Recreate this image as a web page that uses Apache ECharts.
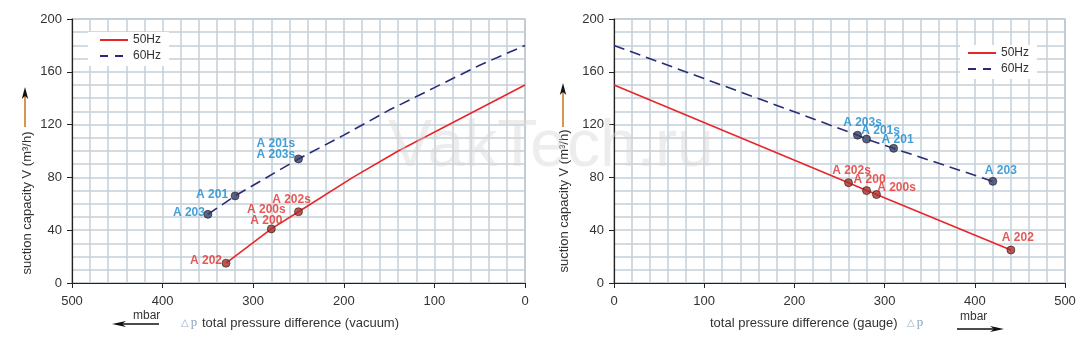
<!DOCTYPE html>
<html>
<head>
<meta charset="utf-8">
<script src="https://cdn.jsdelivr.net/npm/echarts@6/dist/echarts.min.js"></script>
<style>
html,body{margin:0;padding:0;background:#fff;}
#main{width:1082px;height:342px;}
</style>
</head>
<body>
<div id="main"></div>
<script>
// ---------- DATA ----------
const yTicks = [0, 40, 80, 120, 160, 200];
const xTicks = [0, 100, 200, 300, 400, 500];
const seriesNames = ['50Hz', '60Hz'];

// Left chart (vacuum): [pressure difference mbar, suction capacity m3/h]
const vac50Line = [[330, 15], [280, 41], [250, 54], [190, 80], [140, 100], [0, 150]];
const vac60Line = [[350, 52], [320, 66], [250, 94], [200, 112], [150, 131], [100, 148], [50, 165], [0, 180]];
const vac50Marks = [[330, 15, 'A 202'], [280, 41, 'A 200s\nA 200'], [250, 54, 'A 202s']];
const vac60Marks = [[350, 52, 'A 203'], [320, 66, 'A 201'], [250, 94, 'A 201s\nA 203s']];

// Right chart (gauge)
const gau50Line = [[0, 150], [260, 76], [280, 70], [291, 67], [440, 25]];
const gau60Line = [[0, 180], [270, 112], [280, 109], [310, 102], [420, 77]];
const gau50Marks = [[260, 76, 'A 202s'], [280, 70, 'A 200'], [291, 67, 'A 200s'], [440, 25, 'A 202']];
const gau60Marks = [[270, 112, 'A 203s'], [280, 109, 'A 201s'], [310, 102, 'A 201'], [420, 77, 'A 203']];

// ---------- STYLE ----------
const FONT = 'Liberation Sans, Arial, sans-serif';
const RED = '#e8262a';
const NAVY = '#2b2a78';
const LBL_RED = '#e2302a';
const LBL_BLUE = '#1588cc';
const GRIDC = '#c4cfd9';
const DASH = [11, 6];

// label offsets (label center relative to point), style only
const labelStyle = {
  vac: {
    'A 202': {offset: [-20, -3]},
    'A 200s\nA 200': {offset: [-5, -13.5]},
    'A 202s': {offset: [-7, -12]},
    'A 203': {offset: [-19, -1.5]},
    'A 201': {offset: [-23, -1]},
    'A 201s\nA 203s': {offset: [-42, -9.5], align: 'left'}
  },
  gau: {
    'A 203s': {offset: [5, -12]},
    'A 201s': {offset: [14, -8]},
    'A 201': {offset: [4, -9]},
    'A 203': {offset: [8, -10.5]},
    'A 202s': {offset: [3, -12]},
    'A 200': {offset: [3, -11]},
    'A 200s': {offset: [20, -6.5]},
    'A 202': {offset: [7, -12.5]}
  }
};

function markData(marks, key, color) {
  return marks.map(m => {
    const s = labelStyle[key][m[2]];
    return {
      value: [m[0], m[1]],
      label: {
        show: true,
        position: 'inside',
        formatter: m[2],
        offset: s.offset,
        align: s.align || 'center',
        verticalAlign: 'middle',
        color: color,
        fontWeight: 'bold',
        fontSize: 12,
        lineHeight: 11,
        fontFamily: FONT
      }
    };
  });
}

function yAxisCfg(gi) {
  return {
    type: 'value', gridIndex: gi, min: yTicks[0], max: yTicks[yTicks.length - 1], interval: 40,
    axisLine: {show: true, onZero: false, lineStyle: {color: '#222', width: 1.2}},
    axisTick: {show: true, length: 5, lineStyle: {color: '#222', width: 1}},
    axisLabel: {color: '#333', fontSize: 13, margin: 10, fontFamily: FONT},
    splitLine: {show: true, lineStyle: {color: GRIDC, width: 1.5}},
    minorTick: {show: false, splitNumber: 4},
    minorSplitLine: {show: true, lineStyle: {color: GRIDC, width: 1.5}}
  };
}
function xAxisCfg(gi, inverse) {
  return {
    type: 'value', gridIndex: gi, min: xTicks[0], max: xTicks[xTicks.length - 1], interval: 100, inverse: inverse,
    axisLine: {show: true, onZero: false, lineStyle: {color: '#222', width: 1.2}},
    axisTick: {show: true, length: 5, lineStyle: {color: '#222', width: 1}},
    axisLabel: {color: '#333', fontSize: 13, margin: 12, fontFamily: FONT},
    splitLine: {show: true, lineStyle: {color: GRIDC, width: 1.5}},
    minorTick: {show: false, splitNumber: 5},
    minorSplitLine: {show: true, lineStyle: {color: GRIDC, width: 1.5}}
  };
}

function lineSeries(name, data, gi, color, dashed) {
  return {
    name: name, type: 'line', xAxisIndex: gi, yAxisIndex: gi, data: data,
    symbol: 'none', showSymbol: false, silent: true, z: 3,
    lineStyle: {color: color, width: 1.6, type: dashed ? DASH : 'solid'},
    itemStyle: {color: color}
  };
}
function markSeries(id, marks, key, gi, fill, lblColor) {
  return {
    name: id, type: 'scatter', xAxisIndex: gi, yAxisIndex: gi,
    symbol: 'circle', symbolSize: 8, z: 4, silent: true,
    itemStyle: {color: fill, borderColor: '#2a1e1e', borderWidth: 0.8},
    data: markData(marks, key, lblColor)
  };
}

function legendCfg(left, top, padLeft) {
  return {
    data: [
      {name: seriesNames[0], itemStyle: {opacity: 0}, lineStyle: {color: RED, width: 2, type: 'solid'}},
      {name: seriesNames[1], itemStyle: {opacity: 0}, lineStyle: {color: NAVY, width: 2, type: [8, 7]}}
    ],
    orient: 'vertical', left: left, top: top,
    backgroundColor: '#fff', padding: [2, 8, 4, padLeft],
    itemWidth: 28, itemHeight: 14, itemGap: 4, selectedMode: false,
    textStyle: {color: '#333', fontSize: 12, fontFamily: FONT}
  };
}

function arrowV(x, tipY, bottomY) {
  return [
    {type: 'line', shape: {x1: x, y1: tipY + 8, x2: x, y2: bottomY}, style: {stroke: '#cf7a26', lineWidth: 1.6}, z: 10},
    {type: 'polygon', shape: {points: [[x, tipY], [x - 3.2, tipY + 12], [x, tipY + 9], [x + 3.2, tipY + 12]]}, style: {fill: '#111'}, z: 11}
  ];
}
function arrowH(xTail, xTip, y) {
  const d = xTip > xTail ? 1 : -1;
  return [
    {type: 'line', shape: {x1: xTail, y1: y, x2: xTip - d * 8, y2: y}, style: {stroke: '#111', lineWidth: 1.3}, z: 10},
    {type: 'polygon', shape: {points: [[xTip, y], [xTip - d * 14, y - 3], [xTip - d * 10, y], [xTip - d * 14, y + 3]]}, style: {fill: '#111'}, z: 11}
  ];
}
function txt(x, y, text, opts) {
  return {type: 'text', x: x, y: y, z: 12, silent: true,
    style: Object.assign({text: text, fill: '#333', fontSize: 13, fontFamily: FONT, textAlign: 'left', textVerticalAlign: 'middle'}, opts || {})};
}
function delta(x, y) {
  return {type: 'text', x: x, y: y, z: 12, silent: true,
    style: {text: '{t|△}{p|p}', textVerticalAlign: 'middle',
      rich: {t: {fontSize: 10, fill: '#9ab0c6', fontFamily: 'DejaVu Sans'}, p: {fontSize: 13, fill: '#8ea4bb', fontFamily: 'Liberation Serif, serif', padding: [0, 0, 0, 2]}}}};
}

const chart = echarts.init(document.getElementById('main'), null, {renderer: 'canvas'});

const graphics = [].concat(
  [{type: 'text', x: 551, y: 148, z: 20, silent: true,
    style: {text: 'VakTech.ru', fill: 'rgba(215,215,215,0.45)', fontSize: 66, fontFamily: FONT, textAlign: 'center', textVerticalAlign: 'middle'}}],
  // y titles
  [{type: 'text', x: 27, y: 203, rotation: Math.PI / 2, z: 12, silent: true,
    style: {text: 'suction capacity V (m³/h)', fill: '#333', fontSize: 13, fontFamily: FONT, textAlign: 'center', textVerticalAlign: 'middle'}},
   {type: 'text', x: 564, y: 201, rotation: Math.PI / 2, z: 12, silent: true,
    style: {text: 'suction capacity V (m³/h)', fill: '#333', fontSize: 13, fontFamily: FONT, textAlign: 'center', textVerticalAlign: 'middle'}}],
  arrowV(25, 87, 127),
  arrowV(563, 83, 127),
  // left x title
  [txt(133, 316, 'mbar', {fontSize: 12})],
  arrowH(159, 112, 324),
  [delta(181, 323), txt(202, 323, 'total pressure difference (vacuum)')],
  // right x title
  [txt(710, 323, 'total pressure difference (gauge)'), delta(907, 323), txt(960, 317, 'mbar', {fontSize: 12})],
  arrowH(957, 1004, 329)
);

chart.setOption({
  animation: false,
  backgroundColor: '#fff',
  grid: [
    {left: 72, right: 557, top: 19, bottom: 59, show: true, borderColor: '#8f9daa', borderWidth: 1.2, backgroundColor: 'transparent'},
    {left: 614, right: 17, top: 19, bottom: 59, show: true, borderColor: '#8f9daa', borderWidth: 1.2, backgroundColor: 'transparent'}
  ],
  xAxis: [xAxisCfg(0, true), xAxisCfg(1, false)],
  yAxis: [yAxisCfg(0), yAxisCfg(1)],
  legend: [legendCfg(88, 32, 11), legendCfg(960, 45, 7)],
  series: [
    lineSeries('50Hz', vac50Line, 0, RED, false),
    lineSeries('60Hz', vac60Line, 0, NAVY, true),
    lineSeries('50Hz', gau50Line, 1, RED, false),
    lineSeries('60Hz', gau60Line, 1, NAVY, true),
    markSeries('vac50pts', vac50Marks, 'vac', 0, '#a8302a', LBL_RED),
    markSeries('vac60pts', vac60Marks, 'vac', 0, '#2e3d6a', LBL_BLUE),
    markSeries('gau50pts', gau50Marks, 'gau', 1, '#a8302a', LBL_RED),
    markSeries('gau60pts', gau60Marks, 'gau', 1, '#2e3d6a', LBL_BLUE)
  ],
  graphic: graphics
});
</script>
</body>
</html>
